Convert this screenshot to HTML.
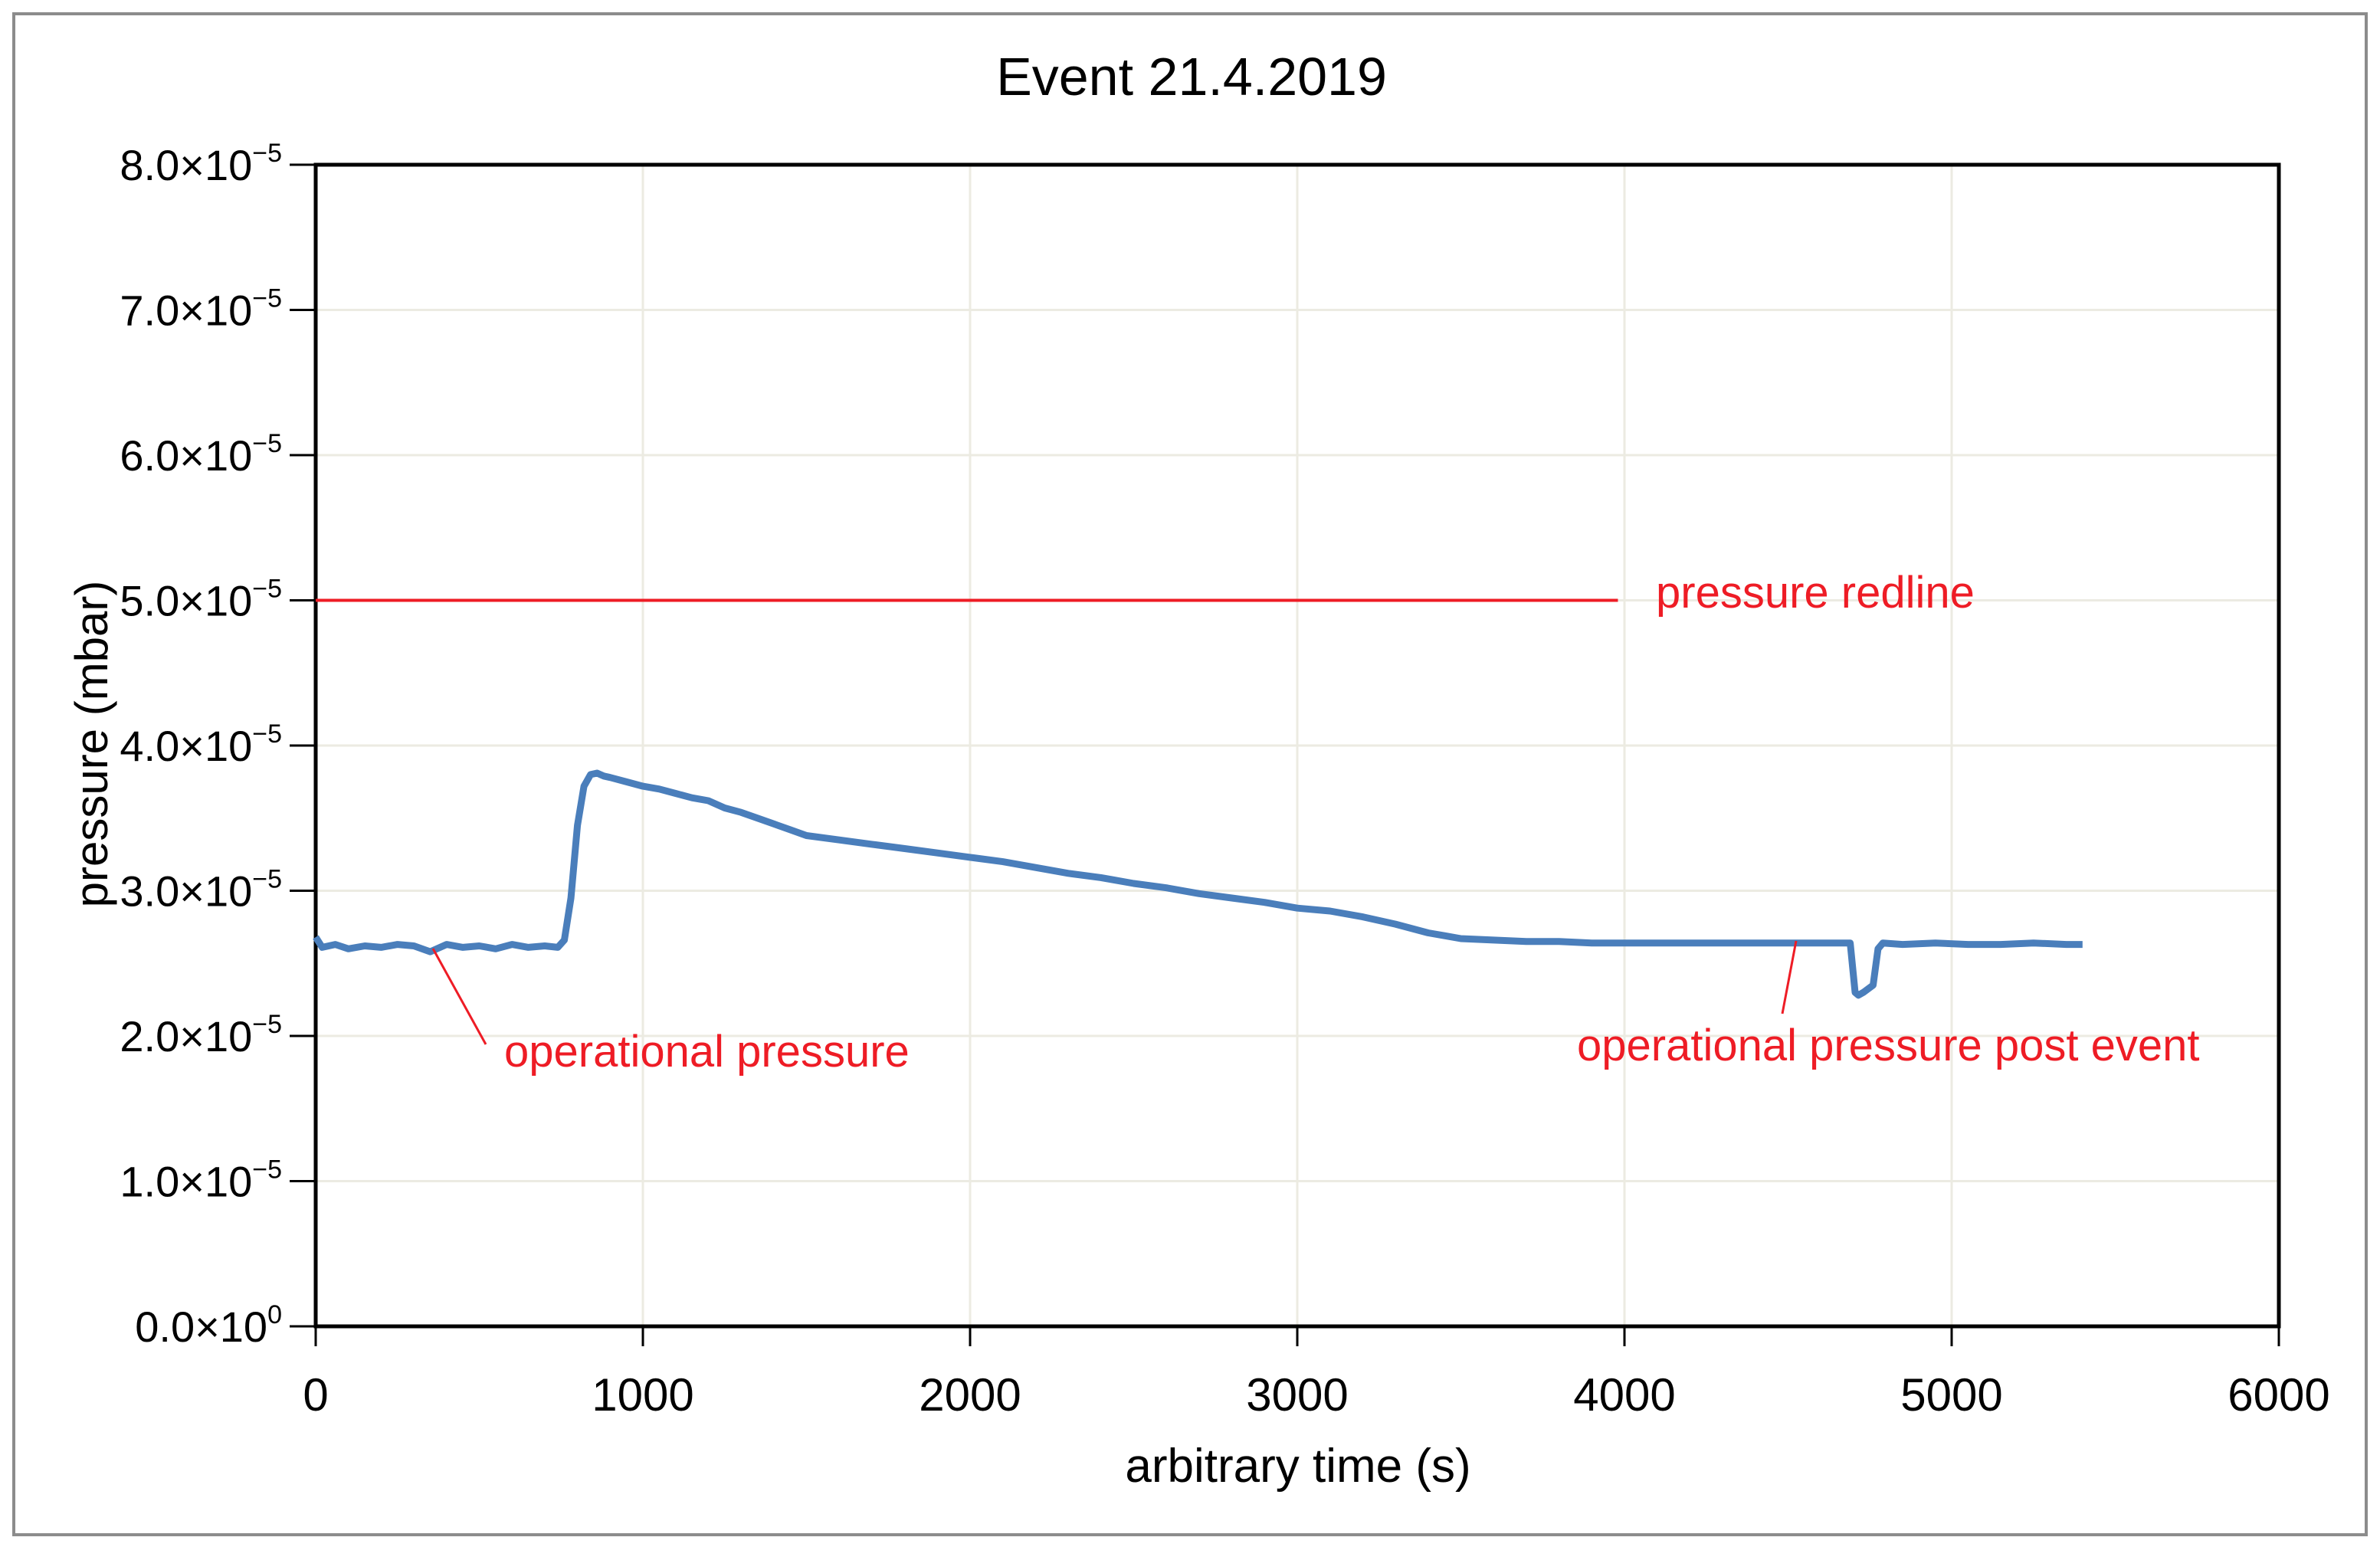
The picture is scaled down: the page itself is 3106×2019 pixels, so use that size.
<!DOCTYPE html>
<html><head><meta charset="utf-8"><style>
html,body{margin:0;padding:0;background:#fff;}
svg{display:block;font-family:"Liberation Sans",Arial,sans-serif;}
</style></head><body>
<svg id="chart" width="3106" height="2019" viewBox="0 0 3106 2019" xmlns="http://www.w3.org/2000/svg">
<rect x="18" y="18" width="3070" height="1985" fill="#fff" stroke="#8c8c8c" stroke-width="4"/>
<text x="1555" y="124" font-size="70" text-anchor="middle" fill="#000">Event 21.4.2019</text>
<g id="grid"></g>
<g id="axes"></g>
<g id="series"></g>
<text transform="translate(140,971) rotate(-90)" font-size="60" text-anchor="middle" fill="#000">pressure (mbar)</text>
<text x="1694" y="1934" font-size="62" text-anchor="middle" fill="#000">arbitrary time (s)</text>
<text x="2161" y="793" font-size="58" fill="#ee1c25">pressure redline</text>
<text x="658" y="1392" font-size="58" fill="#ee1c25">operational pressure</text>
<text x="2058" y="1384" font-size="58" fill="#ee1c25">operational pressure post event</text>
<line x1="565" y1="1238" x2="634" y2="1363" stroke="#ee1c25" stroke-width="3"/>
<line x1="2344" y1="1228" x2="2326" y2="1323" stroke="#ee1c25" stroke-width="3"/>
</svg>
<script>
const xTicks=[0,1000,2000,3000,4000,5000,6000];
const yTicks=[0,1,2,3,4,5,6,7,8];
const yMant=["0.0","1.0","2.0","3.0","4.0","5.0","6.0","7.0","8.0"];
const yExp=["0","−5","−5","−5","−5","−5","−5","−5","−5"];
const redlineValue=5.0;
const redlineEnd=3980;
const times=[0,20,60,100,150,200,250,300,350,400,450,500,550,600,650,700,740,760,780,800,820,840,860,880,900,950,1000,1050,1100,1150,1200,1250,1300,1350,1400,1450,1500,1600,1700,1800,1900,2000,2100,2200,2300,2400,2500,2600,2700,2800,2900,3000,3100,3200,3300,3400,3450,3500,3600,3700,3800,3900,4000,4200,4400,4600,4690,4705,4715,4730,4760,4775,4790,4850,4950,5050,5150,5250,5350,5400];
const pressure=[2.68,2.61,2.63,2.60,2.62,2.61,2.63,2.62,2.58,2.63,2.61,2.62,2.60,2.63,2.61,2.62,2.61,2.66,2.95,3.45,3.72,3.80,3.81,3.79,3.78,3.75,3.72,3.70,3.67,3.64,3.62,3.57,3.54,3.50,3.46,3.42,3.38,3.35,3.32,3.29,3.26,3.23,3.20,3.16,3.12,3.09,3.05,3.02,2.98,2.95,2.92,2.88,2.86,2.82,2.77,2.71,2.69,2.67,2.66,2.65,2.65,2.64,2.64,2.64,2.64,2.64,2.64,2.30,2.28,2.30,2.35,2.60,2.64,2.63,2.64,2.63,2.63,2.64,2.63,2.63];
const L=412,R=2974,T=215,B=1731;
const X=v=>L+(v-0)/(6000-0)*(R-L);
const Y=v=>B-(v-0)/(8-0)*(B-T);
const NS="http://www.w3.org/2000/svg";
function mk(tag,attrs,parent){const e=document.createElementNS(NS,tag);for(const k in attrs)e.setAttribute(k,attrs[k]);parent.appendChild(e);return e;}
const grid=document.getElementById('grid'),axes=document.getElementById('axes'),series=document.getElementById('series');
yTicks.forEach((v,i)=>{
  if(v>0){const g=mk('line',{x1:L,x2:R,y1:Y(v),y2:Y(v),stroke:'#ecebe2','stroke-width':3},grid);
  
  }
  const t=mk('line',{x1:L-34,x2:L,y1:Y(v),y2:Y(v),stroke:'#000','stroke-width':3},axes);
  
  
  const tx=mk('text',{x:L-44,y:Y(v)+20,'font-size':56,'text-anchor':'end',fill:'#000'},axes);
  
  
  tx.textContent=yMant[i]+'×10';
  const sp=mk('tspan',{'font-size':34,dy:-24},tx);sp.textContent=yExp[i];
});
xTicks.forEach(v=>{
  if(v>0&&v<6000){const g=mk('line',{x1:X(v),x2:X(v),y1:T,y2:B,stroke:'#ecebe2','stroke-width':3},grid);
  
  }
  const t=mk('line',{x1:X(v),x2:X(v),y1:B,y2:B+26,stroke:'#000','stroke-width':3},axes);
  
  
  const tx=mk('text',{x:X(v),y:B+110,'font-size':60,'text-anchor':'middle',fill:'#000'},axes);
  
  
  tx.textContent=v;
});
const box=mk('rect',{x:L,y:T,width:R-L,height:B-T,fill:'none',stroke:'#000','stroke-width':5},axes);


const red=mk('line',{x1:X(0),x2:X(redlineEnd),y1:Y(redlineValue),y2:Y(redlineValue),stroke:'#ee1c25','stroke-width':4},series);


const d=times.map((t,i)=>(i?'L':'M')+X(t).toFixed(1)+' '+Y(pressure[i]).toFixed(1)).join(' ');
const p=mk('path',{d:d,fill:'none',stroke:'#4a7ebb','stroke-width':9,'stroke-linejoin':'round'},series);


</script>
</body></html>
